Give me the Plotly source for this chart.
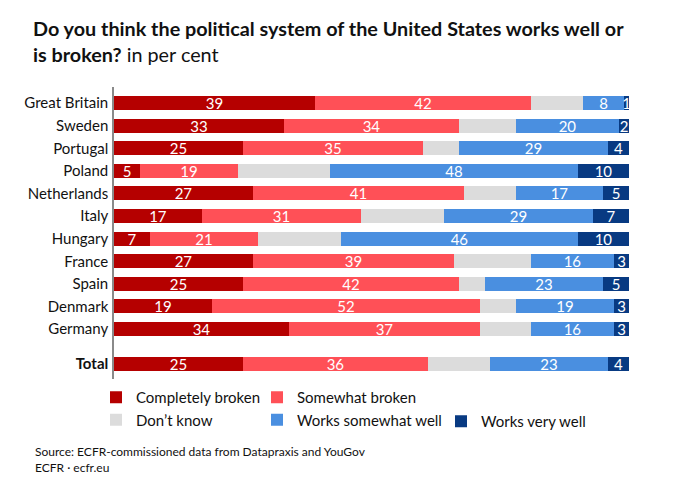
import plotly.graph_objects as go

# ---- data ----
categories = ["Great Britain", "Sweden", "Portugal", "Poland", "Netherlands", "Italy",
              "Hungary", "France", "Spain", "Denmark", "Germany", "Total"]
completely_broken = [39, 33, 25, 5, 27, 17, 7, 27, 25, 19, 34, 25]
somewhat_broken   = [42, 34, 35, 19, 41, 31, 21, 39, 42, 52, 37, 36]
dont_know         = [10, 11, 7, 18, 10, 16, 16, 15, 5, 7, 10, 12]
works_somewhat    = [8, 20, 29, 48, 17, 29, 46, 16, 23, 19, 16, 23]
works_very_well   = [1, 2, 4, 10, 5, 7, 10, 3, 5, 3, 3, 4]

series_names = ["Completely broken", "Somewhat broken", "Don’t know",
                "Works somewhat well", "Works very well"]
series_values = [completely_broken, somewhat_broken, dont_know, works_somewhat, works_very_well]
colors = ["#B50000", "#FF5057", "#DCDCDC", "#4A8FE0", "#083A82"]
show_labels = [True, True, False, True, True]
legend_ids = ["legend", "legend2", "legend", "legend2", "legend3"]

FONT = "Lato"

# y positions: countries one row apart, Total set off by an extra gap
n = len(categories) - 1
ypos = list(range(n)) + [n - 1 + 1.55]
ticktext = categories[:-1] + ["<b>" + categories[-1] + "</b>"]

fig = go.Figure()
for name, vals, col, lab, lg in zip(series_names, series_values, colors, show_labels, legend_ids):
    fig.add_trace(go.Bar(
        name=name, x=vals, y=ypos, orientation="h",
        marker=dict(color=col, line=dict(width=0)),
        width=0.62,
        text=[str(v) for v in vals] if lab else None,
        texttemplate="%{text}" if lab else None,
        textposition="inside" if lab else "none",
        insidetextanchor="middle",
        textangle=0,
        constraintext="none",
        textfont=dict(color="white", size=15, family=FONT),
        legend=lg,
        hoverinfo="x+name",
    ))

W, H = 689, 497
ml, mr, mt, mb = 114, 60, 87, 118
pw, ph = W - ml - mr, H - mt - mb

def px_x(x):
    return (x - ml) / pw

def px_y(y):
    return (H - mb - y) / ph

legend_common = dict(orientation="v", yanchor="top", xanchor="left",
                     font=dict(size=15, family=FONT, color="#111"),
                     bgcolor="rgba(0,0,0,0)", tracegroupgap=0, traceorder="normal",
                     itemclick=False, itemdoubleclick=False)

fig.update_layout(
    width=W, height=H,
    margin=dict(l=ml, r=mr, t=mt, b=mb),
    plot_bgcolor="white", paper_bgcolor="white",
    barmode="stack",
    bargap=0,
    font=dict(family=FONT, color="#111"),
    title=dict(
        text="<b>Do you think the political system of the United States works well or<br>"
             "is broken?</b> in per cent",
        x=33 / W, xanchor="left", xref="container",
        y=1 - 36 / H, yanchor="top", yref="container",
        font=dict(size=19.8, family=FONT, color="#111"),
    ),
    xaxis=dict(range=[0, 100], visible=False, fixedrange=True),
    yaxis=dict(
        range=[ypos[-1] + 0.66, -0.71],
        tickvals=ypos, ticktext=ticktext,
        showline=True, linecolor="#8a8a8a", linewidth=1.5,
        showgrid=False, zeroline=False, ticks="",
        ticklabelstandoff=1,
        tickfont=dict(size=15, family=FONT, color="#111"),
        fixedrange=True,
    ),
    uniformtext=dict(mode="show", minsize=15),
    legend=dict(x=px_x(96), y=px_y(381), **legend_common),
    legend2=dict(x=px_x(257), y=px_y(381), **legend_common),
    legend3=dict(x=px_x(441), y=px_y(405), **legend_common),
    annotations=[dict(
        text="Source: ECFR-commissioned data from Datapraxis and YouGov<br>ECFR · ecfr.eu",
        xref="paper", yref="paper", x=px_x(33), y=px_y(459),
        xanchor="left", yanchor="middle", align="left", showarrow=False,
        font=dict(size=12, family=FONT, color="#111"),
    )],
)

fig.write_html("out.html")
